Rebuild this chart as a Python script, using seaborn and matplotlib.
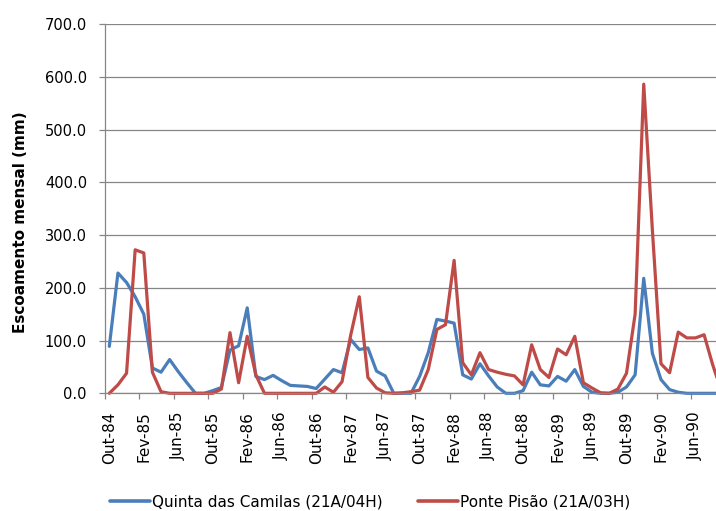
import matplotlib
matplotlib.use("Agg")
import matplotlib.pyplot as plt
import seaborn as sns
import pandas as pd
import numpy as np
from matplotlib.ticker import FixedLocator, FormatStrFormatter

# ---- data (monthly runoff, mm), Out-84 ... Set-90 ----
months = list(range(72))
tick_positions = [0, 4, 8, 12, 16, 20, 24, 28, 32, 36, 40, 44, 48, 52, 56, 60, 64, 68]
tick_labels = ["Out-84", "Fev-85", "Jun-85", "Out-85", "Fev-86", "Jun-86",
               "Out-86", "Fev-87", "Jun-87", "Out-87", "Fev-88", "Jun-88",
               "Out-88", "Fev-89", "Jun-89", "Out-89", "Fev-90", "Jun-90"]

quinta = [89, 228, 210, 183, 150, 48, 40, 64, 41, 20, 0, 0,
          5, 11, 82, 90, 162, 32, 26, 34, 24, 15, 14, 13,
          9, 27, 45, 39, 102, 83, 86, 42, 33, 0, 0, 0,
          32, 77, 140, 137, 133, 35, 27, 56, 33, 12, 0, 0,
          5, 40, 16, 14, 32, 23, 45, 13, 2, 0, 0, 2,
          12, 35, 218, 76, 26, 7, 2, 0, 0, 0, 0, 0]

ponte = [0, 16, 38, 272, 266, 40, 3, 0, 0, 0, 0, 0,
         0, 8, 115, 20, 108, 35, 0, 0, 0, 0, 0, 0,
         0, 12, 2, 22, 110, 183, 30, 10, 1, 0, 1, 3,
         6, 45, 121, 130, 252, 58, 35, 77, 45, 40, 36, 33,
         16, 92, 45, 30, 84, 73, 108, 20, 10, 1, 0, 8,
         38, 150, 586, 310, 56, 39, 116, 105, 105, 111, 54, 5]

series_names = ["Quinta das Camilas (21A/04H)", "Ponte Pisão (21A/03H)"]
colors = ["#4A7EBB", "#BE4B48"]

df = pd.DataFrame({
    "mes": months * 2,
    "valor": quinta + ponte,
    "serie": [series_names[0]] * len(quinta) + [series_names[1]] * len(ponte),
})

sns.set_style("white")
plt.rcParams["font.family"] = ["DejaVu Sans"]
plt.rcParams["text.color"] = "black"
plt.rcParams["axes.labelcolor"] = "black"
plt.rcParams["xtick.color"] = "black"
plt.rcParams["ytick.color"] = "black"

W, H = 716, 511
fig = plt.figure(figsize=(W / 100, H / 100), dpi=100)
left, right, top, bottom = 105, 716, 24, 393.3
ax = fig.add_axes([left / W, (H - bottom) / H, (right - left) / W, (bottom - top) / H])

sns.lineplot(data=df, x="mes", y="valor", hue="serie", palette=colors,
             linewidth=2.3, ax=ax, legend=False, clip_on=False)

grey = "#868686"
ax.set_ylim(0, 700)
ax.set_xlim(-0.5, (716 - 109.3) / 8.62)
ax.yaxis.set_major_locator(FixedLocator(np.arange(0, 701, 100)))
ax.yaxis.set_major_formatter(FormatStrFormatter("%.1f"))
ax.grid(axis="y", color=grey, linewidth=0.9)
ax.grid(axis="x", visible=False)
ax.set_axisbelow(True)

# tick marks at category boundaries, labels centred on categories
ax.xaxis.set_major_locator(FixedLocator([p - 0.5 for p in tick_positions]))
ax.xaxis.set_major_formatter(plt.NullFormatter())
ax.xaxis.set_minor_locator(FixedLocator(tick_positions))
ax.set_xticklabels(tick_labels, minor=True, rotation=90)
ax.tick_params(axis="x", which="major", direction="out", length=4, width=0.9,
               color=grey, bottom=True)
ax.tick_params(axis="x", which="minor", length=0, pad=13, labelsize=11, labelcolor="black")
ax.tick_params(axis="y", direction="out", length=4, width=0.9, color=grey,
               left=True, labelsize=10.5, pad=9, labelcolor="black")

for s in ["top", "right"]:
    ax.spines[s].set_visible(False)
for s in ["left", "bottom"]:
    ax.spines[s].set_color(grey)
    ax.spines[s].set_linewidth(0.9)

ax.set_xlabel("")
ax.set_ylabel("Escoamento mensal (mm)", fontsize=11, fontweight="bold", color="black")
ax.yaxis.set_label_coords((28 - left) / (right - left), (bottom - 222) / (bottom - top))

handles = [plt.Line2D([], [], color=c, linewidth=2.6) for c in colors]
fig.legend(handles, series_names, loc="center", bbox_to_anchor=(370 / W, 9 / H),
           ncol=2, frameon=False, fontsize=11, handlelength=2.6, handletextpad=0.13,
           columnspacing=2.35, borderpad=0, borderaxespad=0)

fig.savefig("out.png", dpi=100)
